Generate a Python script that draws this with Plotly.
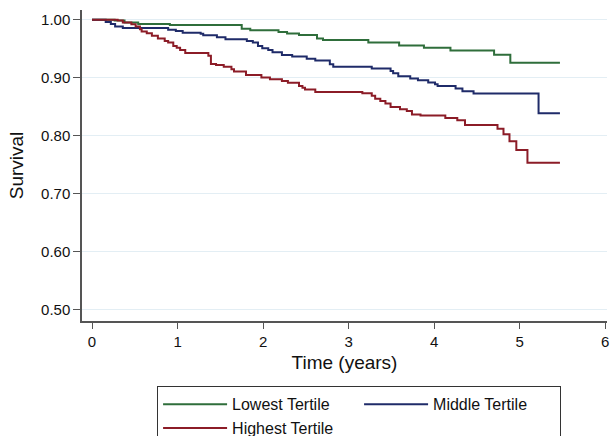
import plotly.graph_objects as go

# Kaplan-Meier step data (time in years, survival)
low_t = [0, 0.265, 0.38, 0.54, 0.91, 1.75, 1.85, 2.18, 2.28, 2.42, 2.63, 2.70, 3.23, 3.59, 3.88, 4.19, 4.70, 4.89, 5.47]
low_s = [1.0, 0.999, 0.9955, 0.993, 0.991, 0.9845, 0.982, 0.979, 0.9765, 0.974, 0.968, 0.9655, 0.961, 0.956, 0.952, 0.947, 0.940, 0.926, 0.926]

mid_t = [0, 0.16, 0.22, 0.27, 0.36, 0.89, 0.98, 1.06, 1.27, 1.30, 1.46, 1.56, 1.81, 1.88, 1.94, 1.99, 2.06, 2.11,
         2.22, 2.34, 2.51, 2.61, 2.78, 2.82, 3.27, 3.49, 3.52, 3.58, 3.72, 3.81, 3.93, 4.01, 4.04, 4.25, 4.33, 4.46,
         5.22, 5.47]
mid_s = [1.0, 0.9965, 0.993, 0.9886, 0.986, 0.983, 0.981, 0.978, 0.976, 0.9736, 0.970, 0.9667, 0.9637, 0.961, 0.955,
         0.951, 0.948, 0.944, 0.9395, 0.937, 0.933, 0.930, 0.9235, 0.919, 0.916, 0.912, 0.908, 0.903, 0.899, 0.896,
         0.892, 0.889, 0.886, 0.8815, 0.877, 0.873, 0.839, 0.839]

high_t = [0, 0.30, 0.36, 0.46, 0.51, 0.56, 0.58, 0.64, 0.70, 0.77, 0.85, 0.89, 0.95, 0.99, 1.03, 1.09, 1.36, 1.39,
          1.45, 1.54, 1.63, 1.66, 1.80, 1.98, 2.08, 2.22, 2.29, 2.42, 2.46, 2.49, 2.61, 3.16, 3.27, 3.31, 3.37, 3.43,
          3.49, 3.60, 3.68, 3.74, 3.84, 4.13, 4.27, 4.36, 4.74, 4.81, 4.88, 4.96, 5.09, 5.47]
high_s = [1.0, 0.999, 0.9955, 0.9926, 0.9886, 0.984, 0.980, 0.977, 0.9727, 0.968, 0.9637, 0.961, 0.955, 0.952, 0.948,
          0.943, 0.938, 0.924, 0.922, 0.919, 0.915, 0.911, 0.905, 0.9005, 0.8976, 0.8946, 0.8915, 0.886, 0.883, 0.880,
          0.8756, 0.8734, 0.869, 0.864, 0.860, 0.856, 0.850, 0.846, 0.843, 0.837, 0.835, 0.831, 0.827, 0.819, 0.8124,
          0.803, 0.791, 0.7755, 0.7537, 0.7537]

series_names = ["Lowest Tertile", "Middle Tertile", "Highest Tertile"]
series_colors = ["#2f6e3b", "#1f2b69", "#8c1c27"]

x_ticks = [0, 1, 2, 3, 4, 5, 6]
y_ticks = [0.5, 0.6, 0.7, 0.8, 0.9, 1.0]

fig = go.Figure()
for name, t, s, c in zip(series_names, [low_t, mid_t, high_t], [low_s, mid_s, high_s], series_colors):
    fig.add_trace(go.Scatter(x=t, y=s, mode="lines", name=name,
                             line=dict(shape="hv", color=c, width=2)))

font_family = "Liberation Sans, Arial, sans-serif"

fig.update_layout(
    width=613, height=436,
    margin=dict(l=82, r=6, t=10, b=115, autoexpand=False),
    paper_bgcolor="white", plot_bgcolor="white",
    font=dict(family=font_family, color="#111", size=15),
    xaxis=dict(range=[-0.117, 6.02], tickvals=x_ticks, showgrid=False, zeroline=False,
               showline=True, linecolor="#555", linewidth=1.5,
               ticks="outside", ticklen=6, tickcolor="#555", tickwidth=1.2,
               tickfont=dict(size=15),
               title=dict(text="Time (years)", font=dict(size=19), standoff=7)),
    yaxis=dict(range=[0.481, 1.017], tickvals=y_ticks, tickformat=".2f",
               showgrid=True, gridcolor="#e3eef4", gridwidth=1, zeroline=False,
               showline=True, linecolor="#555", linewidth=1.5,
               ticks="outside", ticklen=7, tickcolor="#555", tickwidth=1.2,
               tickfont=dict(size=15),
               title=dict(text="Survival", font=dict(size=19), standoff=12)),
    legend=dict(orientation="h", x=0.143, xanchor="left", y=-0.21, yanchor="top",
                bordercolor="#333", borderwidth=1, bgcolor="white",
                font=dict(size=16), entrywidth=122, entrywidthmode="pixels",
                traceorder="normal", itemwidth=64, tracegroupgap=0),
)

# remove the default page margin so the 613x436 figure fills the window exactly
fig.write_html("out.html",
               config={"displayModeBar": False},
               post_script="document.body.style.margin='0';document.body.style.overflow='hidden';")
